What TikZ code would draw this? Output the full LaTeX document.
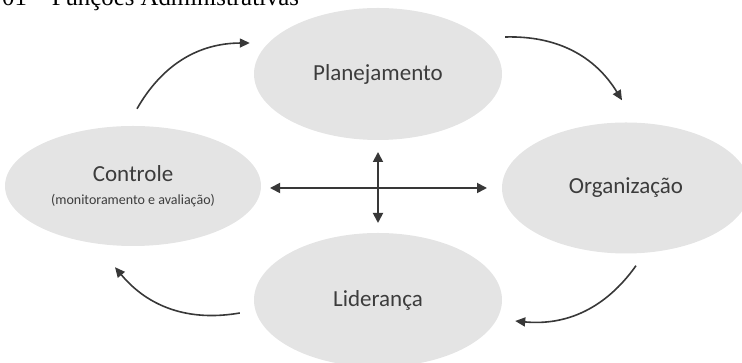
\documentclass[tikz,border=0pt]{standalone}
\usepackage{fontspec}
\setmainfont{Carlito}
\newfontfamily\capfont[Ligatures=TeX]{Liberation Serif}
\usetikzlibrary{arrows.meta,shapes.geometric}
\definecolor{ovalfill}{HTML}{E4E4E4}
\definecolor{inktext}{HTML}{3C3C3C}
\definecolor{inkline}{HTML}{383838}

\begin{document}
\begin{tikzpicture}[x=1pt,y=1pt,
    oval/.style={ellipse, fill=ovalfill, inner sep=0pt, text=inktext,
      font=\fontsize{23}{26}\selectfont, align=center},
    cyc/.style={draw=inkline, line width=1.6pt, bend left=30,
      -{Triangle[length=10pt,width=9pt]}},
    cross/.style={draw=inkline, line width=1.8pt,
      {Triangle[length=10pt,width=10pt]}-{Triangle[length=10pt,width=10pt]}}]
    \useasboundingbox (0,0) rectangle (742,363);
    \clip (0,0) rectangle (742,363);
    % caption (cut at the top edge)
    \node[anchor=base west, inner sep=0pt, font=\capfont\fontsize{24.8}{28}\selectfont] (cap) at (2,357) {01 -- Funções Administrativas};
    % the four functions
    \node[oval, minimum width=248pt, minimum height=132pt] (plan) at (378,289) {Planejamento};
    \node[oval, minimum width=256pt, minimum height=120pt] (ctrl) at (133,177) {Controle\\[-3pt]{\fontsize{14}{16}\selectfont (monitoramento e avaliação)}};
    \node[oval, minimum width=248pt, minimum height=131pt] (org) at (626,175) {Organização};
    \node[oval, minimum width=248pt, minimum height=134pt] (lid) at (378,63) {Liderança};
    % cycle arrows
    \draw[cyc] ([shift={(4,17)}]ctrl.north) to ([shift={(-4,31)}]plan.west);
    \draw[cyc] ([shift={(3,37)}]plan.east) to ([shift={(-4,22)}]org.north);
    \draw[cyc] ([shift={(10,-12)}]org.south) to ([shift={(13,-21)}]lid.east);
    \draw[cyc] ([shift={(-14,-13)}]lid.west) to ([shift={(-18,-21)}]ctrl.south);
    % central cross
    \coordinate (hub) at (378,175);
    \draw[cross] ([xshift=-108]hub) -- ([xshift=109]hub);
    \draw[cross] ([yshift=36]hub) -- ([yshift=-35]hub);
\end{tikzpicture}
\end{document}
